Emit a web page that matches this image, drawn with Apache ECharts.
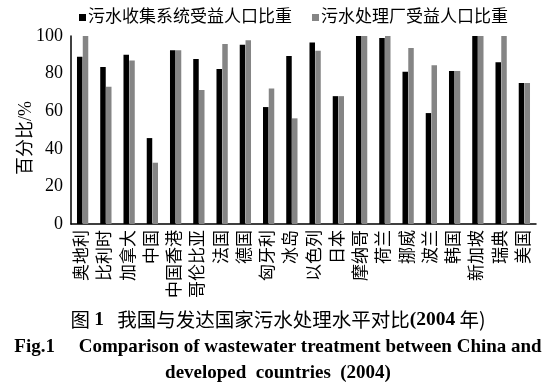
<!DOCTYPE html>
<html><head><meta charset="utf-8">
<script src="https://cdn.jsdelivr.net/npm/echarts@6/dist/echarts.min.js"></script>
<style>html,body{margin:0;padding:0;background:#fff}#c{width:556px;height:390px}</style>
</head><body><div id="c"></div>
<script>
const categories = ['奥地利','比利时','加拿大','中国','中国香港','哥伦比亚','法国','德国','匈牙利','冰岛','以色列','日本','摩纳哥','荷兰','挪威','波兰','韩国','新加坡','瑞典','美国'];
const collection = [89,83.5,90,45.7,92.4,87.8,82.5,95.4,62.2,89.4,96.6,68,100,99,81,59,81.4,100,86,75];
const treatment = [100,73,87,32.6,92.4,71.3,95.7,97.8,72.1,56.2,92.2,68,100,100,93.6,84.4,81.4,100,100,75];
const seriesNames = ['污水收集系统受益人口比重','污水处理厂受益人口比重'];
const yTicks = [0,20,40,60,80,100];
const yName = '百分比/%';
const captionCn = ['图 ','1','   我国与发达国家污水处理水平对比','(2004',' 年)'];
const captionEn = ['Fig.1     Comparison of wastewater treatment between China and','developed  countries  (2004)'];

const cjk = '"Liberation Serif","Noto Sans CJK SC",serif';
const chart = echarts.init(document.getElementById('c'), null, {renderer:'canvas'});
chart.setOption({
  animation:false,
  legend:{
    top:4, left:74, itemWidth:7, itemHeight:7, itemGap:20, icon:'rect',
    textStyle:{fontFamily:cjk, fontSize:17, color:'#000', padding:[0,0,0,-3]},
    data:seriesNames
  },
  grid:{left:71, right:20, top:36, bottom:166},
  xAxis:{
    type:'category', data:categories,
    axisLine:{lineStyle:{color:'#000', width:1.5}},
    axisTick:{show:false},
    axisLabel:{interval:0, rotate:90, fontFamily:cjk, fontSize:17, color:'#000', margin:6}
  },
  yAxis:{
    type:'value', min:yTicks[0], max:yTicks[yTicks.length-1], interval:20,
    axisLine:{show:true, lineStyle:{color:'#000', width:1.5}},
    axisTick:{show:false},
    splitLine:{show:false},
    axisLabel:{fontFamily:'"Liberation Serif",serif', fontSize:18, color:'#000', margin:8}
  },
  series:[
    {name:seriesNames[0], type:'bar', data:collection, barWidth:5.5, barGap:'5%', itemStyle:{color:'#000'}},
    {name:seriesNames[1], type:'bar', data:treatment, barWidth:5.5, itemStyle:{color:'#858585'}}
  ],
  graphic:[
    {type:'text', x:26, y:138, rotation:Math.PI/2, style:{text:yName, align:'center', verticalAlign:'middle',
      font:'18px "Liberation Serif", "Noto Sans CJK SC", serif', fill:'#000'}},
    {type:'text', left:'center', top:310, style:{
      text:'{c|'+captionCn[0]+'}{n|'+captionCn[1]+'}{c|'+captionCn[2]+'}{n|'+captionCn[3]+'}{c|'+captionCn[4]+'}',
      rich:{
        c:{fontFamily:'"Noto Sans CJK SC"', fontSize:19.5, fill:'#000', color:'#000'},
        n:{fontFamily:'"Liberation Serif",serif', fontWeight:'bold', fontSize:19.5, fill:'#000', color:'#000'}
      }}},
    {type:'text', left:'center', top:338, style:{text:captionEn[0], font:'bold 19px "Liberation Serif", serif', fill:'#000'}},
    {type:'text', left:'center', top:364, style:{text:captionEn[1], font:'bold 19px "Liberation Serif", serif', fill:'#000'}}
  ]
});
</script></body></html>
